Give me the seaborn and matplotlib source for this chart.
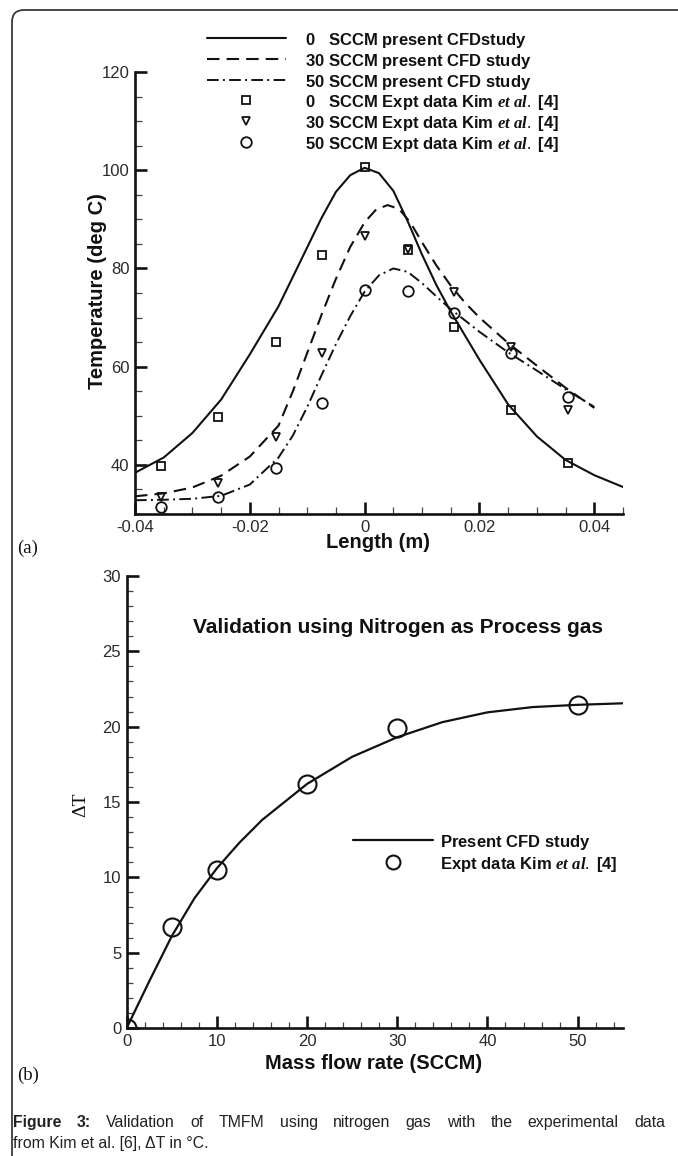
import numpy as np
import pandas as pd
import matplotlib
matplotlib.use("Agg")
import matplotlib.pyplot as plt
import seaborn as sns
from matplotlib.lines import Line2D
from matplotlib.patches import FancyBboxPatch
from matplotlib.transforms import IdentityTransform

# ---------------- data: panel (a) ----------------
x_expt = [-0.0355, -0.0255, -0.0155, -0.0075, 0.0, 0.0075, 0.0155, 0.0255, 0.0355]
t0_expt = [39.8, 49.7, 65.0, 82.7, 100.6, 83.7, 68.0, 51.2, 40.4]
t30_expt = [33.4, 36.4, 45.6, 62.7, 86.6, 84.0, 75.3, 64.1, 51.2]
t50_expt = [31.5, 33.5, 39.4, 52.7, 75.6, 75.4, 71.0, 62.7, 53.9]

x_cfd0 = [-0.04, -0.035, -0.03, -0.025, -0.02, -0.015, -0.0125, -0.01, -0.0075, -0.005,
          -0.0025, 0.0, 0.0025, 0.005, 0.0075, 0.01, 0.0125, 0.015, 0.02, 0.025, 0.03,
          0.035, 0.04, 0.045]
t0_cfd = [38.4, 41.5, 46.5, 53.3, 62.5, 72.3, 78.3, 84.3, 90.3, 95.6,
          99.0, 100.5, 99.4, 95.8, 89.6, 82.8, 76.6, 71.2, 61.4, 52.3, 45.8,
          41.0, 37.9, 35.5]
x_cfd30 = [-0.04, -0.035, -0.03, -0.025, -0.02, -0.015, -0.0125, -0.01, -0.0075, -0.005,
           -0.0025, 0.0, 0.002, 0.004, 0.006, 0.008, 0.01, 0.0125, 0.015, 0.0175, 0.02,
           0.025, 0.03, 0.035, 0.04]
t30_cfd = [33.6, 34.2, 35.4, 37.8, 41.7, 48.0, 55.0, 62.8, 70.6, 77.9,
           84.4, 89.4, 92.0, 92.9, 92.1, 89.3, 85.3, 80.6, 76.5, 73.0, 70.0,
           64.8, 60.2, 55.7, 51.6]
x_cfd50 = [-0.04, -0.035, -0.03, -0.025, -0.02, -0.015, -0.0125, -0.01, -0.0075, -0.005,
           -0.0025, 0.0, 0.0025, 0.005, 0.0075, 0.01, 0.0125, 0.015, 0.02, 0.025, 0.03,
           0.035, 0.04]
t50_cfd = [32.8, 32.9, 33.1, 33.7, 36.0, 41.5, 46.0, 51.8, 58.3, 64.6,
           70.3, 75.3, 78.6, 80.0, 79.3, 77.0, 74.3, 71.7, 67.1, 62.9, 59.2,
           55.4, 51.8]

a_xticks = [-0.04, -0.02, 0.0, 0.02, 0.04]
a_xticklabels = ["-0.04", "-0.02", "0", "0.02", "0.04"]
a_yticks = [40, 60, 80, 100, 120]
a_yticklabels = ["40", "60", "80", "100", "120"]

a_labels = [r"0   SCCM present CFDstudy$\,$",
            r"30 SCCM present CFD study$\,$",
            r"50 SCCM present CFD study$\,$",
            r"0   SCCM Expt data Kim $\mathit{et\ al.}$ [4]",
            r"30 SCCM Expt data Kim $\mathit{et\ al.}$ [4]",
            r"50 SCCM Expt data Kim $\mathit{et\ al.}$ [4]"]

# ---------------- data: panel (b) ----------------
flow_expt = [0, 5, 10, 20, 30, 50]
dT_expt = [0.0, 6.7, 10.5, 16.2, 19.9, 21.45]
flow_cfd = [0, 2.5, 5, 7.5, 10, 12.5, 15, 20, 25, 30, 35, 40, 45, 50, 55]
dT_cfd = [0.0, 3.1, 6.1, 8.6, 10.6, 12.3, 13.8, 16.2, 18.0, 19.3, 20.3, 20.95, 21.3, 21.45, 21.55]

b_xticks = [0, 10, 20, 30, 40, 50]
b_yticks = [0, 5, 10, 15, 20, 25, 30]
b_labels = [r"Present CFD study$\,$", r"Expt data Kim $\mathit{et\ al.}$ [4]"]

# ---------------- style ----------------
sns.set_theme(style="white")
plt.rcParams["font.family"] = ["Liberation Sans", "DejaVu Sans"]
plt.rcParams["mathtext.fontset"] = "custom"
plt.rcParams["mathtext.it"] = "Liberation Serif:italic:bold"
plt.rcParams["mathtext.rm"] = "Liberation Serif"

W, H = 678, 1156
fig = plt.figure(figsize=(W / 100, H / 100), dpi=100)
fig.patch.set_facecolor("white")

def fx(px):
    return px / W

def fy(py):
    return 1 - py / H

INK = "#111111"
TICKC = "#2a2a2a"

# page frame
frame = FancyBboxPatch((12, -40), 760, H - 10 + 40,
                       boxstyle="round,pad=0,rounding_size=12",
                       transform=IdentityTransform(), fill=False,
                       lw=1.3, ec="#3a3a3a")
fig.add_artist(frame)

def style_axes(ax, major_len, minor_len):
    for s in ["top", "right"]:
        ax.spines[s].set_visible(False)
    for s in ["left", "bottom"]:
        ax.spines[s].set_linewidth(1.9)
        ax.spines[s].set_color(INK)
    ax.tick_params(which="major", direction="in", length=major_len, width=1.9,
                   color=INK, labelsize=12, labelcolor=TICKC, pad=4)
    ax.tick_params(which="minor", direction="in", length=minor_len, width=0.9,
                   color="#444444")
    ax.tick_params(top=False, right=False, left=True, bottom=True, which="both")
    ax.grid(False)
    ax.set_facecolor("white")

DASH = (0, (6, 3.4))
DASHDOT = (0, (6, 2.2, 1, 2.2))

# ---------------- panel (a) ----------------
axa = fig.add_axes([fx(135), fy(514), fx(623) - fx(135), fy(72) - fy(514)])
sns.lineplot(x=x_cfd0, y=t0_cfd, ax=axa, color=INK, lw=1.5, sort=False,
             linestyle="-")
sns.lineplot(x=x_cfd30, y=t30_cfd, ax=axa, color=INK, lw=1.5, sort=False,
             linestyle=DASH)
sns.lineplot(x=x_cfd50, y=t50_cfd, ax=axa, color=INK, lw=1.4, sort=False,
             linestyle=DASHDOT)
sns.lineplot(x=x_expt, y=t0_expt, ax=axa, marker="s", linestyle="", ms=5.4,
             mfc="none", mec=INK, mew=1.3, color=INK)
sns.lineplot(x=x_expt, y=t30_expt, ax=axa, marker="v", linestyle="", ms=6.0,
             mfc="none", mec=INK, mew=1.3, color=INK)
sns.lineplot(x=x_expt, y=t50_expt, ax=axa, marker="o", linestyle="", ms=7.6,
             mfc="none", mec=INK, mew=1.3, color=INK)
axa.set_xlim(-0.04, 0.045)
axa.set_ylim(30, 120)
axa.set_xticks(a_xticks)
axa.set_xticklabels(a_xticklabels)
axa.set_yticks(a_yticks)
axa.set_yticklabels(a_yticklabels)
axa.xaxis.set_minor_locator(matplotlib.ticker.MultipleLocator(0.005))
axa.yaxis.set_minor_locator(matplotlib.ticker.MultipleLocator(5))
style_axes(axa, 8.8, 5.0)
axa.set_xlabel("Length (m)", fontsize=14.5, fontweight="bold", color=INK)
axa.set_ylabel("Temperature (deg C)", fontsize=14.5, fontweight="bold", color=INK)
axa.xaxis.set_label_coords(0.498, -0.043)
axa.yaxis.set_label_coords(-0.057, 0.505)

handles_a = [
    Line2D([], [], color=INK, lw=1.5, linestyle="-"),
    Line2D([], [], color=INK, lw=1.5, linestyle=DASH),
    Line2D([], [], color=INK, lw=1.4, linestyle=DASHDOT),
    Line2D([], [], marker="s", linestyle="", ms=5.4, mfc="none", mec=INK, mew=1.3),
    Line2D([], [], marker="v", linestyle="", ms=6.0, mfc="none", mec=INK, mew=1.3),
    Line2D([], [], marker="o", linestyle="", ms=7.6, mfc="none", mec=INK, mew=1.3),
]
leg_a = fig.legend(handles_a, a_labels, loc="upper left",
                   bbox_to_anchor=(fx(207), fy(31)), frameon=False,
                   prop={"weight": "bold", "size": 12}, handlelength=4.74,
                   handleheight=1.25, handletextpad=1.15, labelspacing=0.075,
                   borderpad=0, borderaxespad=0)
for t in leg_a.get_texts():
    t.set_color(INK)

fig.text(fx(17), fy(548), "(a)", fontsize=13.5, family="Liberation Serif",
         ha="left", va="center", color=INK)

# ---------------- panel (b) ----------------
axb = fig.add_axes([fx(126.7), fy(1028), fx(622.7) - fx(126.7), fy(576) - fy(1028)])
sns.lineplot(x=flow_cfd, y=dT_cfd, ax=axb, color=INK, lw=1.6, sort=False)
sns.lineplot(x=flow_expt, y=dT_expt, ax=axb, marker="o", linestyle="", ms=13,
             mfc="none", mec=INK, mew=1.5, color=INK)
axb.set_xlim(0, 55)
axb.set_ylim(0, 30)
axb.set_xticks(b_xticks)
axb.set_yticks(b_yticks)
axb.xaxis.set_minor_locator(matplotlib.ticker.MultipleLocator(2))
axb.yaxis.set_minor_locator(matplotlib.ticker.MultipleLocator(1))
style_axes(axb, 8.8, 4.5)
for lab in axb.get_xticklabels() + axb.get_yticklabels():
    lab.set_clip_on(False)
axb.set_xlabel("Mass flow rate (SCCM)", fontsize=14.5, fontweight="bold", color=INK)
axb.set_ylabel("ΔT", fontsize=14, family="Liberation Serif", color=INK)
axb.xaxis.set_label_coords(0.497, -0.057)
axb.yaxis.set_label_coords(-0.076, 0.493)
axb.text(0.547, 0.885, "Validation using Nitrogen as Process gas",
         transform=axb.transAxes, ha="center", va="center", fontsize=15,
         fontweight="bold", color=INK)

handles_b = [
    Line2D([], [], color=INK, lw=1.6),
    Line2D([], [], marker="o", linestyle="", ms=10, mfc="none", mec=INK, mew=1.5),
]
leg_b = fig.legend(handles_b, b_labels, loc="upper left",
                   bbox_to_anchor=(fx(353), fy(832.7)), frameon=False,
                   prop={"weight": "bold", "size": 12}, handlelength=4.8,
                   handleheight=1.3, handletextpad=0.45, labelspacing=0.14,
                   borderpad=0, borderaxespad=0)
for t in leg_b.get_texts():
    t.set_color(INK)

fig.text(fx(17), fy(1075), "(b)", fontsize=13.5, family="Liberation Serif",
         ha="left", va="center", color=INK)

# ---------------- caption ----------------
line1_bold = ["Figure", "3:"]
line1_reg = ["Validation", "of", "TMFM", "using", "nitrogen", "gas", "with", "the",
             "experimental", "data"]
cap_size = 11.4
base1, base2 = 1127, 1148
fig.canvas.draw()
renderer = fig.canvas.get_renderer()
words = []
for w in line1_bold:
    words.append(fig.text(0, fy(base1), w, fontsize=cap_size, fontweight="bold",
                          va="baseline", ha="left", color="#222222"))
for w in line1_reg:
    words.append(fig.text(0, fy(base1), w, fontsize=cap_size,
                          va="baseline", ha="left", color="#222222"))
widths = [t.get_window_extent(renderer).width for t in words]
left_px, right_px = 13, 665
gap = (right_px - left_px - sum(widths)) / (len(words) - 1)
xpos = left_px
for t, wd in zip(words, widths):
    t.set_x(fx(xpos))
    xpos += wd + gap
fig.text(fx(13), fy(base2), "from Kim et al. [6], ΔT in °C.", fontsize=cap_size,
         va="baseline", ha="left", color="#222222")

fig.savefig("out.png", dpi=100, facecolor="white")
